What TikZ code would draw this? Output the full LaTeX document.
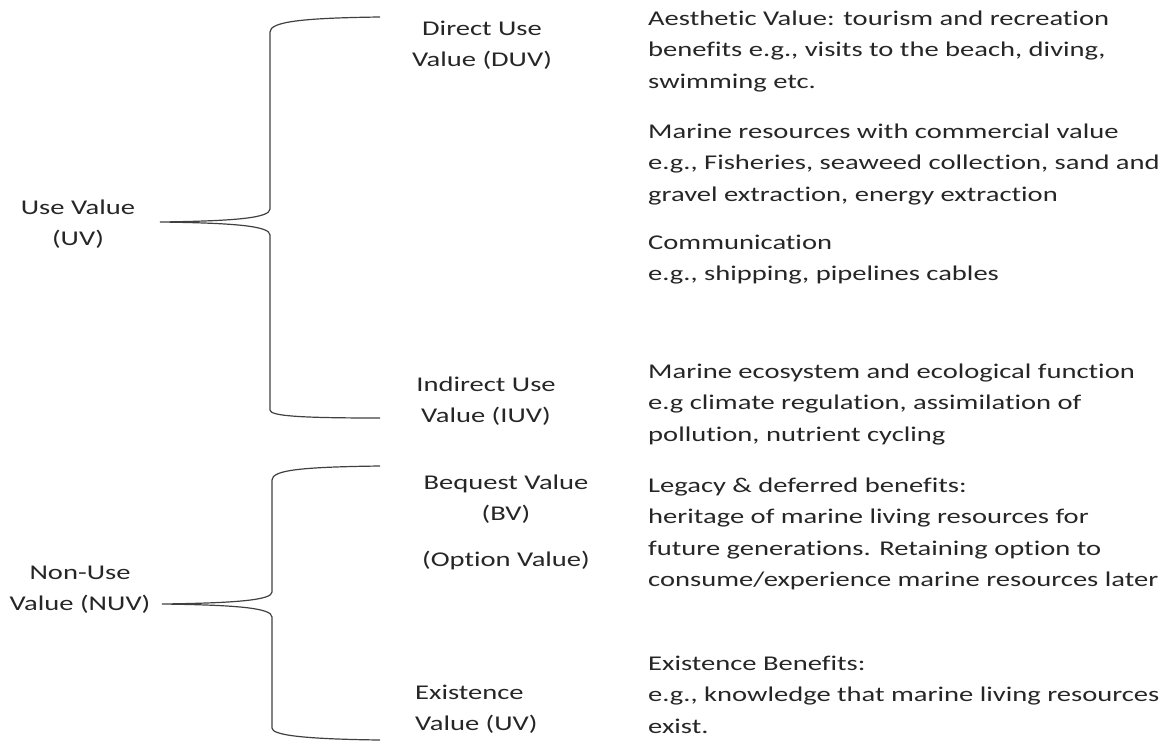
\documentclass[tikz,border=0pt]{standalone}
\usepackage{fontspec}
\setmainfont{Carlito}[FakeStretch=1.36, Ligatures={NoCommon}]
\begin{document}
\begin{tikzpicture}[x=1pt,y=-1pt,
  txt/.style={inner sep=0pt, text=black!85, font=\fontsize{21}{31.5}\selectfont},
  blockL/.style={txt, align=left, anchor=north west},
  blockC/.style={txt, align=center, anchor=north},
  brace/.style={draw=black!75, line width=1.2pt}]
\useasboundingbox (0,0) rectangle (1166,742);

% category labels (y given as first baseline minus strut height)
\node[blockC] (uv)  at (78,214-22) {\strut Use Value\\(UV)};
\node[blockC] (nuv) at (80,579-22) {\strut Non-Use\\Value (NUV)};

% sub-category labels
\node[blockC] (duv) at (482,35-22)  {\strut Direct Use\\Value (DUV)};
\node[blockC] (iuv) at (486,391-22) {\strut Indirect Use\\Value (IUV)};
\node[blockC] (bv)  at (506,489-22) {\strut Bequest Value\\(BV)};
\node[blockC] (ov)  at (506,566-22) {\strut (Option Value)};
\node[blockL] (ev)  at (415,699-22) {\strut Existence\\Value (UV)};

% descriptions
\node[blockL] (d1) at (648,25-22)  {\strut Aesthetic Value: tourism and recreation\\benefits e.g., visits to the beach, diving,\\swimming etc.};
\node[blockL] (d2) at (648,138-22) {\strut Marine resources with commercial value\\e.g., Fisheries, seaweed collection, sand and\\gravel extraction, energy extraction};
\node[blockL] (d3) at (648,249-22) {\strut Communication\\e.g., shipping, pipelines cables};
\node[blockL] (d4) at (648,378-22) {\strut Marine ecosystem and ecological function\\e.g climate regulation, assimilation of\\pollution, nutrient cycling};
\node[blockL] (d5) at (648,492-22) {\strut Legacy \& deferred benefits:\\heritage of marine living resources for\\future generations. Retaining option to\\consume/experience marine resources later};
\node[blockL] (d6) at (648,670-22) {\strut Existence Benefits:\\e.g., knowledge that marine living resources\\exist.};

% brace end points
\coordinate (b1top) at (380,17);
\coordinate (b1tip) at (160,222);
\coordinate (b1bot) at (380,418);
\coordinate (b2top) at (380,466);
\coordinate (b2tip) at (162,604);
\coordinate (b2bot) at (380,740);

% upper brace: use value
\draw[brace] (b1top) .. controls (300,18) and (270,22) .. (270,32)
  -- (270,209) .. controls (270,218) and (235,221) .. (b1tip)
  .. controls (235,223) and (270,226) .. (270,235)
  -- (270,410) .. controls (270,416) and (300,418) .. (b1bot);

% lower brace: non-use value
\draw[brace] (b2top) .. controls (302,467) and (272,470) .. (272,480)
  -- (272,592) .. controls (272,600) and (237,603) .. (b2tip)
  .. controls (237,605) and (272,608) .. (272,617)
  -- (272,728) .. controls (272,735) and (302,739) .. (b2bot);
\end{tikzpicture}
\end{document}
